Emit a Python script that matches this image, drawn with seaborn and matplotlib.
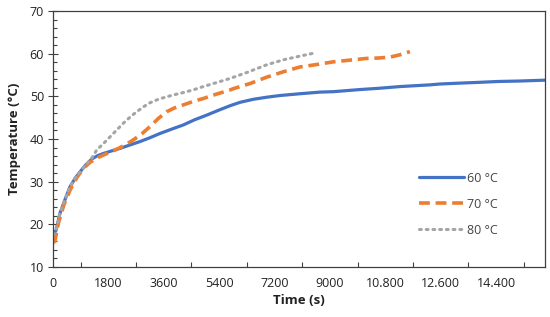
import matplotlib
matplotlib.use("Agg")
import matplotlib.pyplot as plt
import seaborn as sns
import pandas as pd
from matplotlib.ticker import FixedLocator, MultipleLocator

# ---- data ----
t60 = [0, 100, 227, 400, 552, 720, 877, 1050, 1257, 1450, 1636, 1900, 2178, 2500, 2828, 3150,
       3478, 3850, 4236, 4600, 4995, 5400, 5753, 6078, 6500, 6945, 7378, 8000, 8678, 9110,
       9978, 10600, 11278, 12253, 12578, 13200, 13878, 14500, 15178, 15990]
T60 = [17.5, 18.6, 22.6, 26.0, 28.8, 30.8, 32.3, 33.8, 35.3, 36.1, 36.6, 37.2, 37.8, 38.6, 39.4, 40.3,
       41.3, 42.3, 43.3, 44.5, 45.6, 46.8, 47.8, 48.6, 49.3, 49.8, 50.2, 50.6, 51.0, 51.1,
       51.6, 51.9, 52.3, 52.7, 52.9, 53.1, 53.3, 53.5, 53.6, 53.8]

t70 = [0, 60, 173, 350, 552, 780, 986, 1200, 1419, 1750, 2069, 2350, 2611, 2900, 3152, 3420,
       3694, 3950, 4236, 4550, 4886, 5300, 5753, 5860, 6400, 6945, 7500, 8028, 8600, 9110,
       9650, 10195, 10600, 10953, 11300, 11600]
T70 = [15.7, 16.0, 20.2, 24.5, 28.0, 31.0, 33.1, 34.5, 35.5, 36.6, 37.6, 38.6, 39.8, 41.3, 42.9, 44.8,
       46.4, 47.3, 48.0, 48.8, 49.5, 50.5, 51.5, 51.8, 53.0, 54.5, 55.8, 56.9, 57.5, 58.1,
       58.5, 58.9, 59.0, 59.2, 59.8, 60.5]

t80 = [0, 100, 227, 400, 552, 720, 877, 1050, 1257, 1419, 1650, 1853, 2070, 2286, 2500, 2720,
       2950, 3152, 3420, 3694, 3950, 4236, 4550, 4886, 5300, 5753, 6300, 6945, 7500, 8000, 8515]
T80 = [17.5, 18.6, 22.6, 26.0, 28.8, 30.8, 32.3, 33.8, 35.5, 37.4, 39.0, 40.5, 42.1, 43.7, 45.1, 46.4,
       47.6, 48.5, 49.3, 49.9, 50.4, 50.9, 51.5, 52.3, 53.2, 54.2, 55.6, 57.4, 58.6, 59.4, 60.2]

series_labels = ["60 °C", "70 °C", "80 °C"]
colors = ["#4472C4", "#ED7D31", "#A5A5A5"]
x_ticks = [0, 1800, 3600, 5400, 7200, 9000, 10800, 12600, 14400]
x_tick_labels = ["0", "1800", "3600", "5400", "7200", "9000", "10.800", "12.600", "14.400"]
y_ticks = [10, 20, 30, 40, 50, 60, 70]

sns.set_style("white")
plt.rcParams["font.family"] = ["Open Sans", "DejaVu Sans"]

fig = plt.figure(figsize=(5.5, 3.17), dpi=100)
ax = fig.add_axes([0.0964, 0.158, 0.895, 0.807])

df60 = pd.DataFrame({"t": t60, "T": T60})
df70 = pd.DataFrame({"t": t70, "T": T70})
df80 = pd.DataFrame({"t": t80, "T": T80})

sns.lineplot(data=df60, x="t", y="T", ax=ax, color=colors[0], lw=2.3,
             label=series_labels[0], sort=False)
sns.lineplot(data=df70, x="t", y="T", ax=ax, color=colors[1], lw=2.6,
             label=series_labels[1], sort=False, dashes=False)
ax.lines[-1].set_dashes([3, 1.6])
sns.lineplot(data=df80, x="t", y="T", ax=ax, color=colors[2], lw=2.2,
             label=series_labels[2], sort=False, dashes=False)
ax.lines[-1].set_dashes([0.6, 1.6])
ax.lines[-1].set_dash_capstyle("round")

ax.set_xlim(0, 16000)
ax.set_ylim(10, 70)
ax.xaxis.set_major_locator(FixedLocator(x_ticks))
ax.set_xticklabels(x_tick_labels)
ax.xaxis.set_minor_locator(MultipleLocator(900))
ax.yaxis.set_major_locator(FixedLocator(y_ticks))
ax.yaxis.set_minor_locator(MultipleLocator(2))

ax.tick_params(axis="x", which="major", direction="inout", length=7, width=0.8,
               color="#404040", labelsize=9, labelcolor="#222222", pad=4)
ax.tick_params(axis="x", which="minor", direction="in", length=3.5, width=0.8,
               color="#404040", bottom=True)
ax.tick_params(axis="y", which="major", direction="inout", length=7, width=0.8,
               color="#404040", labelsize=9, labelcolor="#222222", pad=3, left=True)
ax.tick_params(axis="y", which="minor", direction="in", length=3, width=0.8,
               color="#404040", left=True)

for s in ax.spines.values():
    s.set_visible(True)
    s.set_color("#404040")
    s.set_linewidth(0.9)

ax.set_xlabel("Time (s)", fontsize=9.5, fontweight="bold", color="#222222", labelpad=3)
ax.set_ylabel("Temperature (°C)", fontsize=9.5, fontweight="bold", color="#222222", labelpad=6)

leg = ax.legend(loc="center left", bbox_to_anchor=(0.72, 0.245), frameon=False,
                fontsize=9, handlelength=3.6, labelspacing=1.05, handletextpad=0.3)
for txt in leg.get_texts():
    txt.set_color("#444444")

fig.savefig("out.png", dpi=100)
